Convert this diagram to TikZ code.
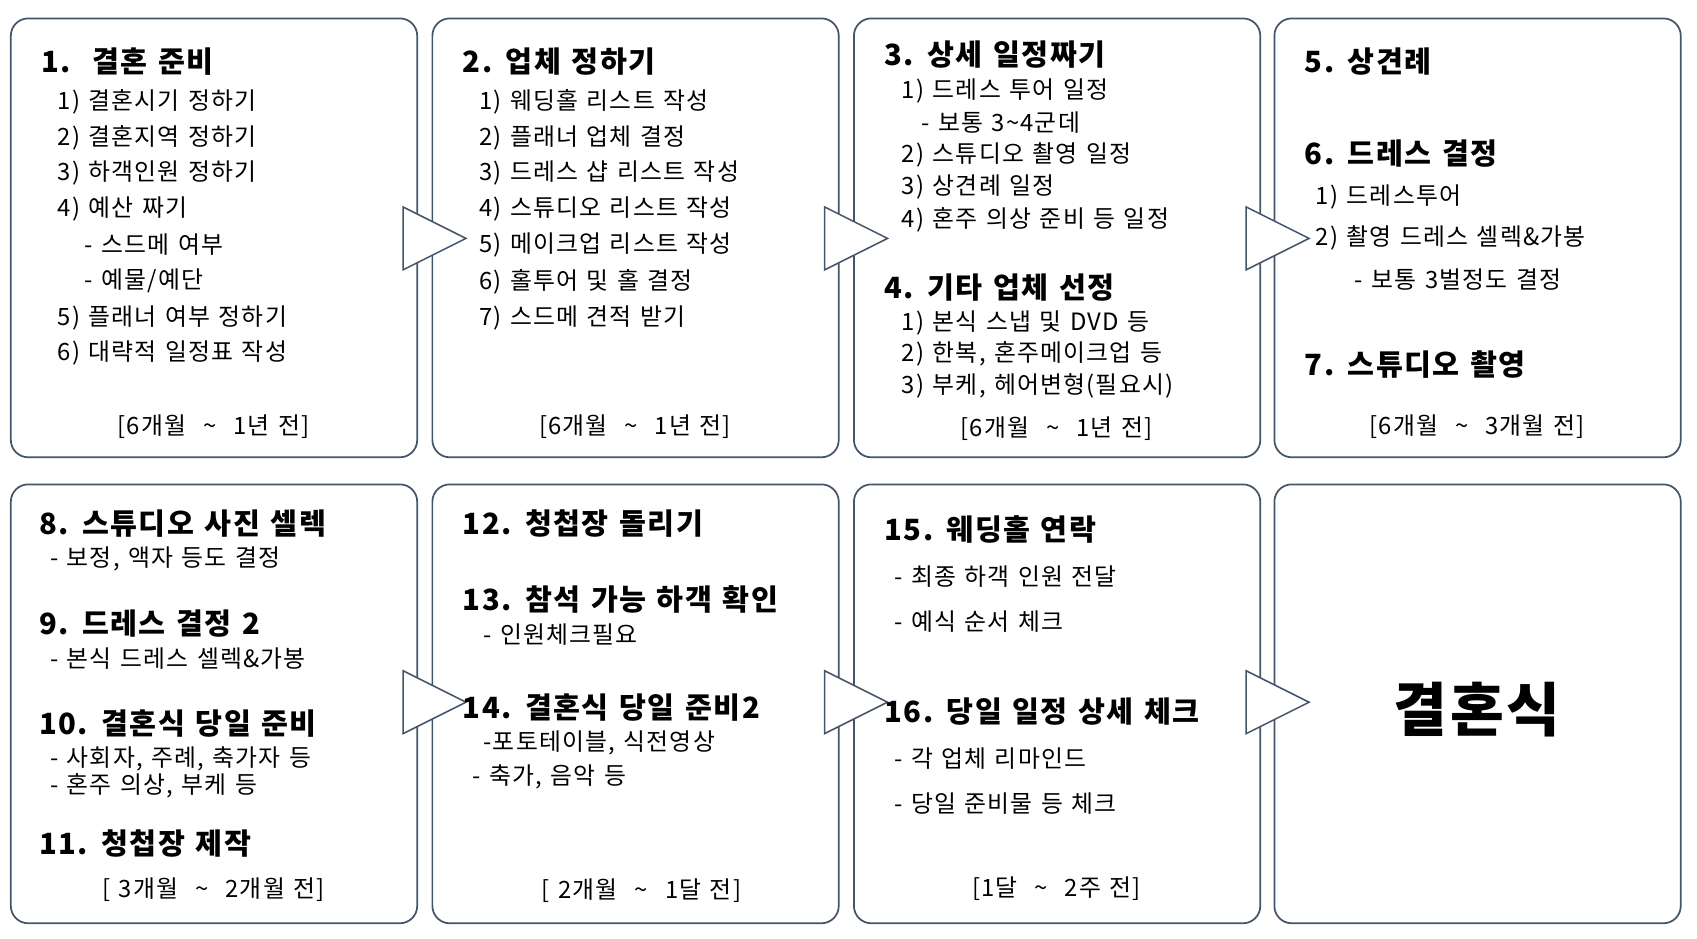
\documentclass[tikz,border=0pt]{standalone}
\usepackage{fontspec}
\setmainfont{Noto Sans CJK KR}[LetterSpace=5,WordSpace=1.3]
\begin{document}
\begin{tikzpicture}[x=1pt,y=-1pt,
  box/.style={draw=frame,line width=1.6pt,rounded corners=16pt},
  tri/.style={draw=frame,fill=white,line width=1.4pt},
  ttl/.style={anchor=west,inner sep=0,font=\fontsize{27}{30}\selectfont\bfseries},
  itm/.style={anchor=west,inner sep=0,font=\fontsize{22}{25}\selectfont},
  ftr/.style={anchor=center,inner sep=0,font=\fontsize{22}{25}\selectfont}]
\definecolor{frame}{HTML}{44546A}
\useasboundingbox (0,0) rectangle (1566,866);
% boxes
\foreach \n/\x/\y in {b1/10/17,b2/399/17,b3/788/17,b4/1176/17,b5/10/447,b6/399/447,b7/788/447,b8/1176/447}
  \draw[box] (\x,\y) rectangle ++(375,405) node[pos=0.5,coordinate](\n){};
% arrows
\foreach \x/\y/\n in {372/220/a1,761/220/a2,1150/220/a3,372/648/a4,761/648/a5,1150/648/a6}
  \draw[tri] (\x,\y-29) -- (\x+58,\y) -- (\x,\y+29) -- cycle;
% box 1
\node[ttl] (t1) at (38,57) {1.\ \ 결혼 준비};
\node[itm] (t1a) at (53,94) {1) 결혼시기 정하기};
\node[itm] (t1b) at (53,127) {2) 결혼지역 정하기};
\node[itm] (t1c) at (53,160) {3) 하객인원 정하기};
\node[itm] (t1d) at (53,193) {4) 예산 짜기};
\node[itm] (t1e) at (78,226) {- 스드메 여부};
\node[itm] (t1f) at (78,259) {- 예물/예단};
\node[itm] (t1g) at (53,293) {5) 플래너 여부 정하기};
\node[itm] (t1h) at (53,326) {6) 대략적 일정표 작성};
\node[ftr] (f1) at (197,394) {[6개월 \ \textasciitilde\ \ 1년 전]};
% box 2
\node[ttl] (t2) at (427,57) {2. 업체 정하기};
\node[itm] (t2a) at (442,94) {1) 웨딩홀 리스트 작성};
\node[itm] (t2b) at (442,127) {2) 플래너 업체 결정};
\node[itm] (t2c) at (442,160) {3) 드레스 샵 리스트 작성};
\node[itm] (t2d) at (442,193) {4) 스튜디오 리스트 작성};
\node[itm] (t2e) at (442,226) {5) 메이크업 리스트 작성};
\node[itm] (t2f) at (442,260) {6) 홀투어 및 홀 결정};
\node[itm] (t2g) at (442,293) {7) 스드메 견적 받기};
\node[ftr] (f2) at (586,394) {[6개월 \ \textasciitilde\ \ 1년 전]};
% box 3
\node[ttl] (t3) at (816,50) {3. 상세 일정짜기};
\node[itm] (t3a) at (832,84) {1) 드레스 투어 일정};
\node[itm] (t3b) at (850,113) {- 보통 3\textasciitilde 4군데};
\node[itm] (t3c) at (832,143) {2) 스튜디오 촬영 일정};
\node[itm] (t3d) at (832,173) {3) 상견례 일정};
\node[itm] (t3e) at (832,203) {4) 혼주 의상 준비 등 일정};
\node[ttl] (t4) at (816,265) {4. 기타 업체 선정};
\node[itm] (t4a) at (832,298) {1) 본식 스냅 및 DVD 등};
\node[itm] (t4b) at (832,327) {2) 한복, 혼주메이크업 등};
\node[itm] (t4c) at (832,356) {3) 부케, 헤어변형(필요시)};
\node[ftr] (f3) at (975,396) {[6개월 \ \textasciitilde\ \ 1년 전]};
% box 4
\node[ttl] (t5) at (1204,57) {5. 상견례};
\node[ttl] (t6) at (1204,142) {6. 드레스 결정};
\node[itm] (t6a) at (1214,182) {1) 드레스투어};
\node[itm] (t6b) at (1214,220) {2) 촬영 드레스 셀렉\&가봉};
\node[itm] (t6c) at (1250,258) {- 보통 3벌정도 결정};
\node[ttl] (t7) at (1204,336) {7. 스튜디오 촬영};
\node[ftr] (f4) at (1363,394) {[6개월 \ \textasciitilde\ \ 3개월 전]};
% box 5
\node[ttl] (t8) at (36,483) {8. 스튜디오 사진 셀렉};
\node[itm] (t8a) at (46,516) {- 보정, 액자 등도 결정};
\node[ttl] (t9) at (36,575) {9. 드레스 결정 2};
\node[itm] (t9a) at (46,608) {- 본식 드레스 셀렉\&가봉};
\node[ttl] (t10) at (36,668) {10. 결혼식 당일 준비};
\node[itm] (t10a) at (46,700) {- 사회자, 주례, 축가자 등};
\node[itm] (t10b) at (46,725) {- 혼주 의상, 부케 등};
\node[ttl] (t11) at (36,778) {11. 청첩장 제작};
\node[ftr] (f5) at (197,821) {[ 3개월 \ \textasciitilde\ \ 2개월 전]};
% box 6
\node[ttl] (t12) at (427,483) {12. 청첩장 돌리기};
\node[ttl] (t13) at (427,553) {13. 참석 가능 하객 확인};
\node[itm] (t13a) at (446,586) {- 인원체크필요};
\node[ttl] (t14) at (427,653) {14. 결혼식 당일 준비2};
\node[itm] (t14a) at (446,686) {-포토테이블, 식전영상};
\node[itm] (t14b) at (436,717) {- 축가, 음악 등};
\node[ftr] (f6) at (592,822) {[ 2개월 \ \textasciitilde\ \ 1달 전]};
% box 7
\node[ttl] (t15) at (816,489) {15. 웨딩홀 연락};
\node[itm] (t15a) at (825,532) {- 최종 하객 인원 전달};
\node[itm] (t15b) at (825,574) {- 예식 순서 체크};
\node[ttl] (t16) at (816,657) {16. 당일 일정 상세 체크};
\node[itm] (t16a) at (825,700) {- 각 업체 리마인드};
\node[itm] (t16b) at (825,742) {- 당일 준비물 등 체크};
\node[ftr] (f7) at (975,820) {[1달 \ \textasciitilde\ \ 2주 전]};
% box 8
\node[inner sep=0,font=\fontsize{54}{60}\selectfont\bfseries] (t17) at (1363,655) {결혼식};
\end{tikzpicture}
\end{document}
